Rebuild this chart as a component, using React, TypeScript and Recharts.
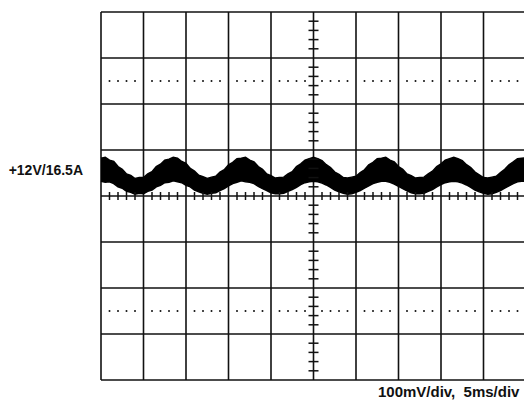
import { ComposedChart, Area, Scatter, XAxis, YAxis, CartesianGrid } from 'recharts';

// scope trace sampled every 0.5 ms, values in mV relative to screen centre
const sampleStepMs = 0.5;
const rippleTop = [
  82, 84, 78, 75, 64, 58, 48, 45, 38, 40,
  40, 48, 53, 64, 69, 78, 80, 84, 82, 75,
  71, 60, 54, 45, 42, 38, 41, 43, 52, 57,
  68, 73, 81, 82, 84, 78, 74, 64, 58, 48,
  44, 39, 40, 41, 48, 53, 64, 70, 78, 81,
  84, 81, 77, 68, 62, 52, 47, 40, 39, 41,
  43, 51, 57, 68, 73, 81, 82, 84, 78, 74,
  64, 58, 48, 44, 39, 40, 41, 48, 54, 64,
  70, 78, 81, 84, 81, 77, 68, 62, 52, 46,
  40, 39, 41, 43, 51, 58, 68, 74, 81, 82,
  83,
];
const rippleBottom = [
  32, 30, 31, 27, 20, 17, 10, 8, 4, 6,
  5, 10, 13, 20, 23, 29, 30, 33, 31, 29,
  23, 20, 13, 9, 6, 4, 6, 7, 12, 16,
  22, 27, 30, 33, 31, 30, 27, 21, 16, 12,
  7, 5, 5, 6, 10, 14, 19, 25, 29, 31,
  32, 31, 28, 24, 19, 13, 9, 6, 4, 5,
  8, 12, 17, 22, 27, 30, 32, 32, 30, 26,
  21, 16, 11, 7, 5, 5, 6, 10, 14, 20,
  25, 29, 31, 32, 31, 28, 24, 19, 13, 9,
  6, 4, 5, 8, 12, 17, 22, 27, 31, 32,
  32,
];

// graticule: 5 ms/div, 100 mV/div
const timeTicks = [0, 5, 10, 15, 20, 25, 30, 35, 40, 45, 50];
const voltTicks = [-400, -300, -200, -100, 0, 100, 200, 300, 400];
const minorTimeTicks = [
  1, 2, 3, 4, 6, 7, 8, 9, 11, 12, 13, 14, 16, 17, 18, 19, 21, 22, 23, 24,
  26, 27, 28, 29, 31, 32, 33, 34, 36, 37, 38, 39, 41, 42, 43, 44, 46, 47, 48, 49,
];
const minorVoltTicks = [
  -380, -360, -340, -320, -280, -260, -240, -220, -180, -160, -140, -120,
  -80, -60, -40, -20, 20, 40, 60, 80, 120, 140, 160, 180,
  220, 240, 260, 280, 320, 340, 360, 380,
];
const dottedLevels = [250, -250];
const centreTime = 25;
const centreVolt = 0;

const traceData = rippleTop.map((hi, i) => ({
  t: i * sampleStepMs,
  band: [rippleBottom[i], hi],
}));
const hTickData = minorTimeTicks.map((t) => ({ t, v: centreVolt }));
const vTickData = minorVoltTicks.map((v) => ({ t: centreTime, v }));
const dotData = dottedLevels.flatMap((v) =>
  minorTimeTicks.filter((t) => t !== centreTime).map((t) => ({ t, v }))
);

const ink = '#111';

const HTick = (p: any) => (
  <line x1={p.cx} x2={p.cx} y1={p.cy - 4} y2={p.cy + 4} stroke={ink} strokeWidth={1.5} />
);
const VTick = (p: any) => (
  <line x1={p.cx - 5} x2={p.cx + 5} y1={p.cy} y2={p.cy} stroke={ink} strokeWidth={1.5} />
);
const Dot = (p: any) => <circle cx={p.cx} cy={p.cy} r={1} fill={ink} />;

export default function App() {
  return (
    <div
      style={{
        position: 'absolute',
        left: 0,
        top: 0,
        width: 524,
        height: 402,
        overflow: 'hidden',
        background: '#fff',
      }}
    >
      <ComposedChart
        width={530}
        height={402}
        data={traceData}
        margin={{ top: 12, right: 4, bottom: 22, left: 101 }}
      >
        <CartesianGrid stroke={ink} strokeWidth={1.6} />
        <XAxis dataKey="t" type="number" domain={[0, 50]} ticks={timeTicks} hide />
        <YAxis type="number" domain={[-400, 400]} ticks={voltTicks} hide />
        <Scatter data={dotData} dataKey="v" shape={Dot} isAnimationActive={false} />
        <Scatter data={hTickData} dataKey="v" shape={HTick} isAnimationActive={false} />
        <Scatter data={vTickData} dataKey="v" shape={VTick} isAnimationActive={false} />
        <Area
          dataKey="band"
          type="linear"
          stroke="#000"
          strokeWidth={1.5}
          fill="#000"
          fillOpacity={1}
          dot={false}
          activeDot={false}
          isAnimationActive={false}
        />
      </ComposedChart>
      <svg
        width={524}
        height={402}
        style={{ position: 'absolute', left: 0, top: 0, pointerEvents: 'none' }}
        fontFamily="'Liberation Sans', Arial, sans-serif"
        fontWeight="bold"
        fill="#111"
      >
        <text x={83} y={175} textAnchor="end" fontSize={14}>
          +12V/16.5A
        </text>
        <text x={378} y={397} fontSize={15} style={{ whiteSpace: 'pre' }}>
          {'100mV/div,  5ms/div'}
        </text>
      </svg>
    </div>
  );
}
